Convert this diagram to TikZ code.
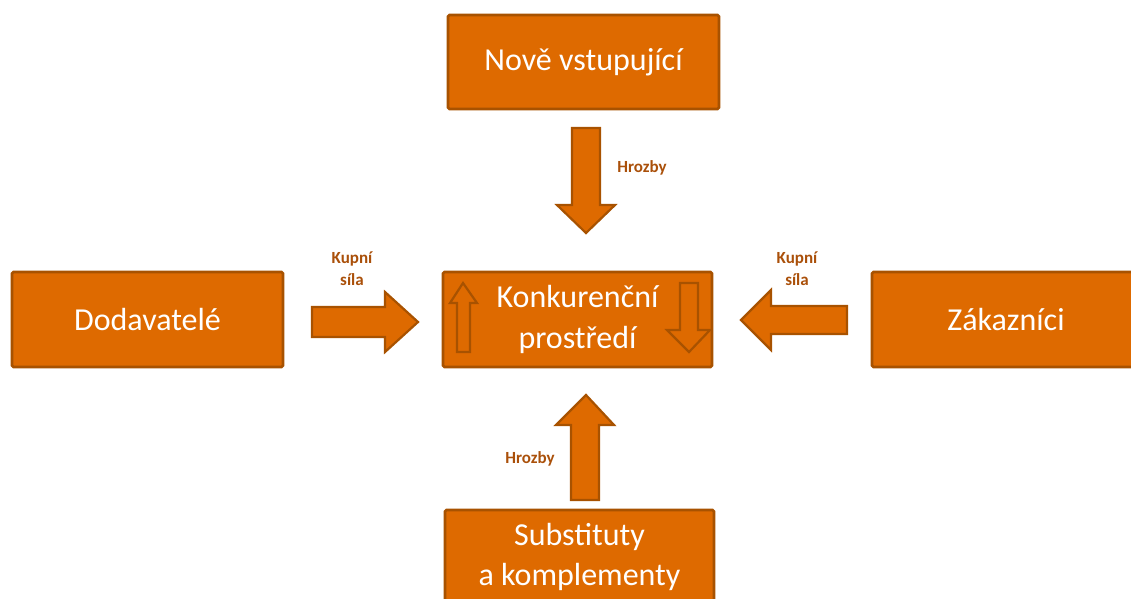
\documentclass[tikz,border=0pt]{standalone}
\usepackage{fontspec}
\setmainfont{Carlito}
\definecolor{boxfill}{RGB}{222,106,0}
\definecolor{boxedge}{RGB}{168,82,0}
\definecolor{lbl}{RGB}{170,80,10}
\begin{document}
\begin{tikzpicture}[x=1pt,y=-1pt,
  box/.style={draw=boxedge,line width=2.6pt,fill=boxfill,rounded corners=1.5pt,
    text=white,font=\fontsize{32}{40}\selectfont,align=center,inner sep=0pt},
  blockarrow/.style={draw=boxedge,line width=2.2pt,fill=boxfill,line join=miter},
  innerarrow/.style={draw=boxedge,line width=2.2pt,line join=miter},
  lab/.style={text=lbl,font=\fontsize{17}{22}\selectfont\bfseries,align=center,inner sep=0pt}]
\useasboundingbox (0,0) rectangle (1131,598);
\clip (0,0) rectangle (1131,598);
% boxes
\node[box,minimum width=271,minimum height=94] (new) at (583.5,62) {Nově vstupující};
\node[box,minimum width=269,minimum height=95] (comp) at (577.5,319.5) {};
\node[box,minimum width=271,minimum height=95] (sup) at (147.5,319.5) {Dodavatelé};
\node[box,minimum width=268,minimum height=95] (cust) at (1006,319.5) {Zákazníci};
\node[box,minimum width=269,minimum height=94] (subs) at (579.5,557) {Substituty\\a komplementy};
% inner arrows of the centre box
\draw[innerarrow] (463,283) -- (477,303) -- (470,303) -- (470,352) -- (457,352) -- (457,303) -- (450,303) -- cycle;
\draw[innerarrow] (689,352) -- (710,330) -- (698,330) -- (698,283) -- (680,283) -- (680,330) -- (667,330) -- cycle;
\node[text=white,font=\fontsize{32}{41}\selectfont,align=center,inner sep=0pt] (comptext) at (comp.center) {Konkurenční\\prostředí};
% block arrows
\draw[blockarrow] (586,233) -- (615,205) -- (600,205) -- (600,128) -- (572,128) -- (572,205) -- (557,205) -- cycle;
\draw[blockarrow] (586,395) -- (614,425) -- (599,425) -- (599,500) -- (571,500) -- (571,425) -- (556,425) -- cycle;
\draw[blockarrow] (418,322) -- (385,292) -- (385,307) -- (312,307) -- (312,337) -- (385,337) -- (385,352) -- cycle;
\draw[blockarrow] (741,320) -- (771,290) -- (771,306) -- (847,306) -- (847,334) -- (771,334) -- (771,350) -- cycle;
% labels
\node[lab] (h1) at (642,168) {Hrozby};
\node[lab] (h2) at (530,459) {Hrozby};
\node[lab] (k1) at (352,269) {Kupní\\síla};
\node[lab] (k2) at (797,269) {Kupní\\síla};
\end{tikzpicture}
\end{document}
